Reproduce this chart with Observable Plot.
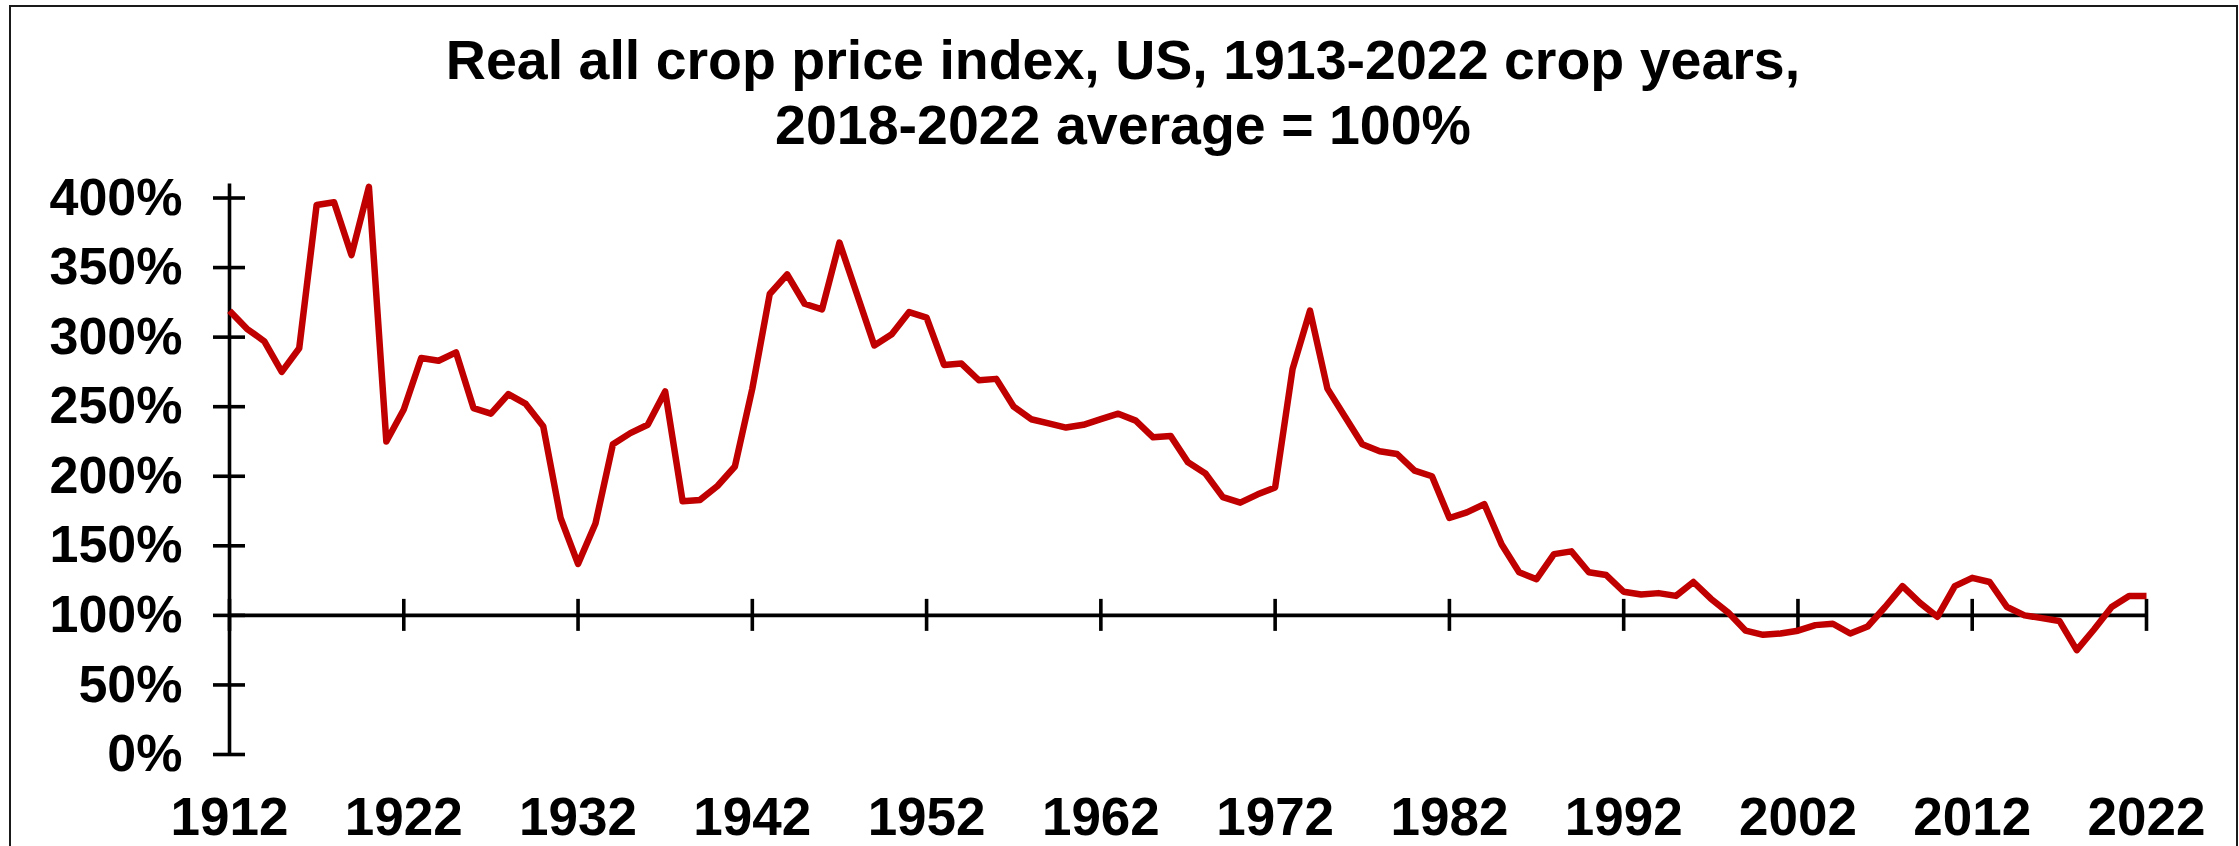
<!DOCTYPE html>
<html>
<head>
<meta charset="utf-8">
<script src="https://cdn.jsdelivr.net/npm/d3@7"></script>
<script src="https://cdn.jsdelivr.net/npm/@observablehq/plot@0.6"></script>
<style>
  html, body { margin: 0; padding: 0; background: #fff; }
  body { width: 2239px; height: 846px; overflow: hidden; position: relative; }
  #frame { position: absolute; left: 9px; top: 5px; width: 2229px; height: 900px;
           border: 2px solid #1a1a1a; box-sizing: border-box; pointer-events: none; }
  #title { position: absolute; left: 10px; top: 28px; width: 2226px; text-align: center;
           font-family: "Liberation Sans", Arial, sans-serif; font-weight: bold;
           font-size: 55.5px; line-height: 65px; color: #000; }
  #chart { position: absolute; left: 0; top: 150px; }
</style>
</head>
<body>
<div id="frame"></div>
<div id="title"></div>
<div id="chart"></div>
<script>
// ---- data ----
const titleLines = [
  "Real all crop price index, US, 1913-2022 crop years,",
  "2018-2022 average = 100%"
];
const firstYear = 1912;
const lastYear = 2022;
// index values in % (one per year, 1912 .. 2022)
const priceIndex = [
  319, 306, 297, 275, 292, 395, 397, 359, 408, 225,   // 1912-1921
  248, 285, 283, 289, 249, 245, 259, 252, 236, 170,   // 1922-1931
  137, 166, 223, 231, 237, 261, 182, 183, 193, 207,   // 1932-1941
  263, 331, 345, 324, 320, 368, 331, 294, 302, 318,   // 1942-1951
  314, 280, 281, 269, 270, 250, 241, 238, 235, 237,   // 1952-1961
  241, 245, 240, 228, 229, 210, 202, 185, 181, 187,   // 1962-1971
  192, 277, 319, 263, 243, 223, 218, 216, 204, 200,   // 1972-1981
  170, 174, 180, 151, 131, 126, 144, 146, 131, 129,   // 1982-1991
  117, 115, 116, 114, 124, 112, 102,  89,  86,  87,   // 1992-2001
   89,  93,  94,  87,  92, 106, 121, 109,  99, 121,   // 2002-2011
  127, 124, 106, 100,  98,  96,  75,  90, 106, 114,   // 2012-2021
  114                                                 // 2022
];
const yTickValues = [0, 50, 100, 150, 200, 250, 300, 350, 400];
const xTickYears = [1912, 1922, 1932, 1942, 1952, 1962, 1972, 1982, 1992, 2002, 2012, 2022];
const axisCrossing = 100;   // horizontal axis crosses at 100%
const yAxisTop = 410;

// ---- build ----
document.getElementById("title").innerHTML = titleLines.map(t => `<div>${t}</div>`).join("");

const data = priceIndex.map((v, i) => ({ year: firstYear + i, value: v }));
const axisColor = "#000";
const axisWidth = 3.6;

const chart = Plot.plot({
  width: 2239,
  height: 696,
  marginLeft: 229,
  marginRight: 93,
  marginTop: 33.6,
  marginBottom: 92,
  x: { domain: [firstYear, lastYear], label: null },
  y: { domain: [0, yAxisTop], label: null },
  style: { fontFamily: "'Liberation Sans', Arial, sans-serif", fontWeight: "bold", color: "#000", background: "transparent" },
  marks: [
    // vertical axis line
    Plot.ruleX([firstYear], { y1: 0, y2: yAxisTop, stroke: axisColor, strokeWidth: axisWidth }),
    // vertical axis cross ticks
    Plot.ruleY(yTickValues, { x1: firstYear, x2: firstYear, insetLeft: -16, insetRight: -16, stroke: axisColor, strokeWidth: axisWidth }),
    // horizontal axis at 100%
    Plot.ruleY([axisCrossing], { x1: firstYear, x2: lastYear, stroke: axisColor, strokeWidth: axisWidth }),
    // horizontal axis cross ticks
    Plot.ruleX(xTickYears, { y1: axisCrossing, y2: axisCrossing, insetTop: -16, insetBottom: -16, stroke: axisColor, strokeWidth: axisWidth }),
    Plot.axisY({ ticks: yTickValues, tickSize: 0, tickPadding: 47, label: null, tickFormat: d => d + "%", fontSize: 52, fontWeight: "bold", fill: "#000" }),
    Plot.axisX({ ticks: xTickYears, tickSize: 0, tickPadding: 43, label: null, tickFormat: d => String(d), fontSize: 53, fontWeight: "bold", fill: "#000" }),
    Plot.line(data, { x: "year", y: "value", stroke: "#C00000", strokeWidth: 6.5, strokeLinejoin: "round", strokeLinecap: "butt" })
  ]
});
document.getElementById("chart").appendChild(chart);
</script>
</body>
</html>
